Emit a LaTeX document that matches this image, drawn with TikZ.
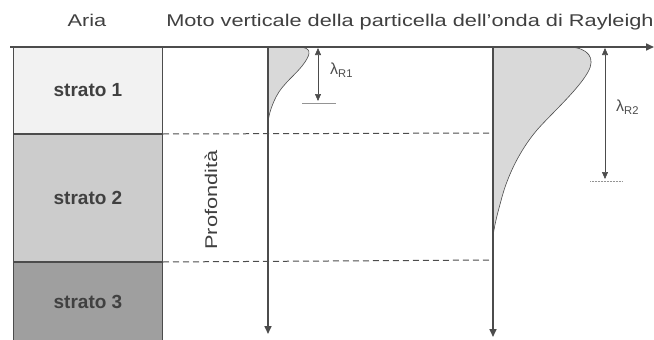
\documentclass[tikz,border=0pt]{standalone}
\usepackage{fontspec}
\setmainfont{Liberation Sans}
\usetikzlibrary{arrows.meta}
\usepackage{xcolor}
\definecolor{linea}{gray}{0.3}
\newcommand{\largo}[1]{\scalebox{1.28}[1]{#1}}

\begin{document}
\begin{tikzpicture}[
    x=1pt,y=-1pt,
    strato/.style={draw=linea, line width=1pt, minimum width=149pt, inner sep=0pt, font=\bfseries\fontsize{19}{22}\selectfont, text=black!75},
    asse/.style={draw=linea, line width=1.6pt, -{Triangle[length=8pt,width=7pt]}},
    quota/.style={draw=linea, line width=0.6pt, {Triangle[length=7pt,width=6pt]}-{Triangle[length=7pt,width=6pt]}},
    onda/.style={draw=linea, line width=0.6pt, fill=gray!30},
    tratteggio/.style={draw=linea, line width=1pt, dash pattern=on 6pt off 4pt},
    testo/.style={font=\fontsize{17}{20}\selectfont, text=black!75},
    lambda/.style={font=\fontsize{16}{18}\selectfont, text=black!70, inner sep=0pt, anchor=west}
]
    \useasboundingbox (0,0) rectangle (654,340);

    % strati
    \node[strato, fill=gray!10, minimum height=86pt, anchor=north west] (strato1) at (13,47) {strato 1};
    \node[strato, fill=gray!40, minimum height=127pt, anchor=north west] (strato2) at (strato1.south west) {strato 2};
    \node[strato, fill=gray!75, minimum height=78pt, anchor=north west] (strato3) at (strato2.south west) {strato 3};

    % assi
    \coordinate (o1) at (268,47);
    \coordinate (o2) at (493,47);
    \coordinate (f1) at (268,334);
    \coordinate (f2) at (493,337);
    \coordinate (s0) at (10,47);
    \coordinate (s1) at (654,47);

    % onde
    \path[onda] (o1) -- (300,47) .. controls (311,48) and (311,53) .. (305,62)
        .. controls (298,73) and (283,83) .. (276,97)
        .. controls (271,107) and (268,117) .. (268,125) -- cycle;
    \path[onda] (o2) -- (570,47) .. controls (588,48) and (596,58) .. (588,72)
        .. controls (578,90) and (550,115) .. (537,130)
        .. controls (520,150) and (508,175) .. (502,197)
        .. controls (498,212) and (495,222) .. (493,236) -- cycle;

    % interfacce
    \coordinate (d1) at (493,133);
    \coordinate (d2) at (493,260);
    \draw[tratteggio] (strato2.north east) -- (d1);
    \draw[tratteggio] (strato3.north east) -- (d2);

    \draw[asse] (o1) -- (f1);
    \draw[asse] (o2) -- (f2);
    \draw[asse] (s0) -- (s1);

    % lunghezze d'onda
    \coordinate (q1a) at (318,48);
    \coordinate (q1b) at (318,101);
    \coordinate (q2a) at (605,48);
    \coordinate (q2b) at (605,179);
    \draw[quota] (q1a) -- (q1b);
    \draw[quota] (q2a) -- (q2b);
    \coordinate (t1a) at (302,103);
    \coordinate (t1b) at (336,103);
    \coordinate (t2a) at (590,181);
    \coordinate (t2b) at (622,181);
    \draw[linea!60, line width=0.5pt] (t1a) -- (t1b);
    \draw[linea!60, line width=0.5pt, densely dotted] (t2a) -- (t2b);
    \node[lambda] (l1) at (330,70) {λ\textsubscript{R1}};
    \node[lambda] (l2) at (616,107) {λ\textsubscript{R2}};

    % testi
    \node[testo, anchor=base] (aria) at (87,27) {\largo{Aria}};
    \node[testo, anchor=base] (moto) at (410,27) {\largo{Moto verticale della particella dell'onda di Rayleigh}};
    \node[testo, rotate=90] (prof) at (211,200) {\largo{Profondità}};
\end{tikzpicture}
\end{document}
